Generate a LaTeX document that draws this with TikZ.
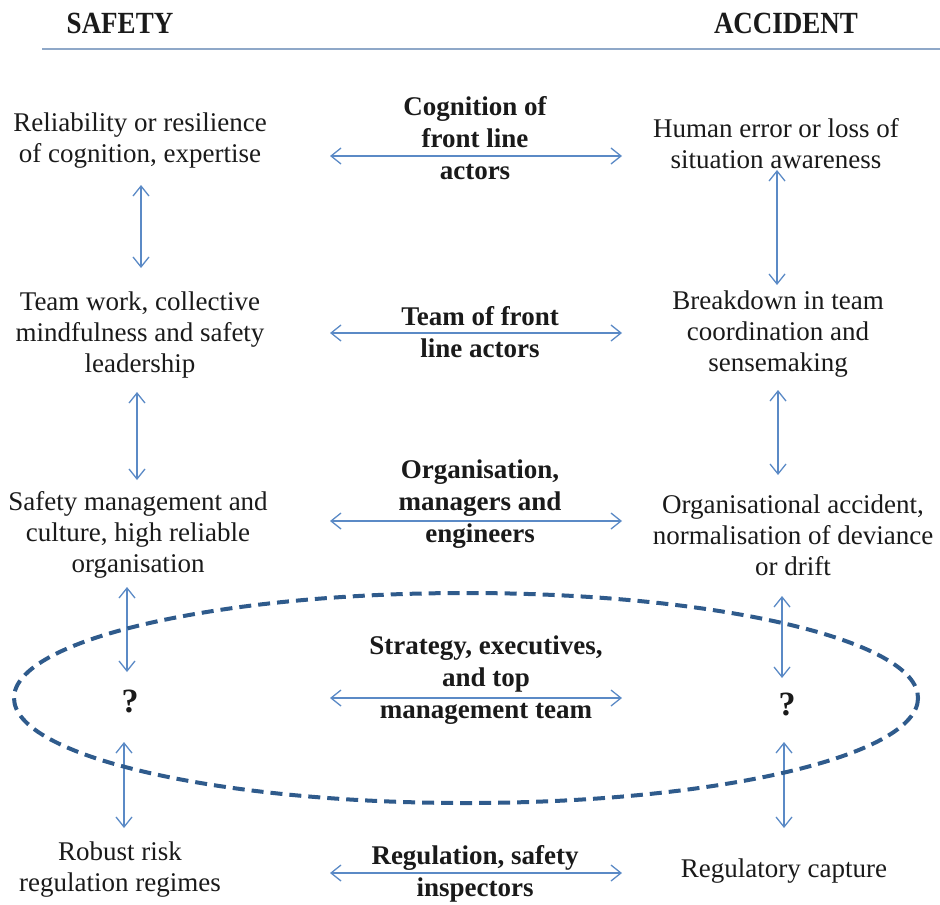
\documentclass[tikz,border=0pt]{standalone}
\usepackage{fontspec}
\setmainfont{Liberation Serif}
\usetikzlibrary{arrows.meta}
\definecolor{ink}{HTML}{1A1A1A}
\definecolor{link}{HTML}{5B8AC6}
\definecolor{rulec}{HTML}{8FA8C8}
\definecolor{ringc}{HTML}{2F5B8C}
\newcommand{\tallcaps}[1]{\scalebox{1}[1.14]{#1}}
\tikzset{
  txt/.style={align=center,inner sep=0pt,text=ink,font=\fontsize{13.5}{15.5}\selectfont},
  hub/.style={txt,font=\fontsize{13.5}{16}\selectfont\bfseries},
  head/.style={txt,font=\fontsize{13.5}{16}\selectfont\bfseries},
  qm/.style={txt,font=\fontsize{17}{18}\selectfont\bfseries},
  ar/.style={{Straight Barb[length=5pt,width=8pt]}-{Straight Barb[length=5pt,width=8pt]},draw=link,line width=.65pt},
  dashring/.style={draw=ringc,line width=2pt,dash pattern=on 6pt off 3.5pt},
}
\begin{document}
\begin{tikzpicture}[x=.5pt,y=-.5pt]
  \useasboundingbox (0,0) rectangle (940,904);
  % headings and rule
  \node[head] (safety) at (120,23) {\tallcaps{SAFETY}};
  \node[head] (accident) at (786,23) {\tallcaps{ACCIDENT}};
  \coordinate (rl) at (42,49); \coordinate (rr) at (940,49);
  \draw[rulec,line width=1.1pt] (rl) -- (rr);
  % safety side
  \node[txt] (s1) at (140,141) {Reliability or resilience\\of cognition, expertise};
  \node[txt] (s2) at (140,335) {Team work, collective\\mindfulness and safety\\leadership};
  \node[txt] (s3) at (138,535) {Safety management and\\culture, high reliable\\organisation};
  \node[qm] (s4) at (130,701) {?};
  \node[txt] (s5) at (120,870) {Robust risk\\regulation regimes};
  % levels
  \node[hub] (m1) at (475,138) {Cognition of\\front line\\actors};
  \node[hub] (m2) at (480,332) {Team of front\\line actors};
  \node[hub] (m3) at (480,504) {Organisation,\\managers and\\engineers};
  \node[hub] (m4) at (486,680) {Strategy, executives,\\and top\\management team};
  \node[hub] (m5) at (475,874) {Regulation, safety\\inspectors};
  % accident side
  \node[txt] (a1) at (776,144) {Human error or loss of\\situation awareness};
  \node[txt] (a2) at (778,334) {Breakdown in team\\coordination and\\sensemaking};
  \node[txt] (a3) at (793,535) {Organisational accident,\\normalisation of deviance\\or drift};
  \node[qm] (a4) at (787,704) {?};
  \node[txt] (a5) at (784,871) {Regulatory capture};
  % arrows
  \foreach \i/\y in {1/156,2/333,3/521,4/698,5/873} {
    \coordinate (hl\i) at (330,\y); \coordinate (hr\i) at (622,\y);
    \draw[ar] (hl\i) -- (hr\i);
  }
  \foreach \i/\x/\ya/\yb in {1/141/185/268,2/137/392/480,3/127/587/672,4/124/742/828} {
    \coordinate (vt\i) at (\x,\ya); \coordinate (vb\i) at (\x,\yb);
    \draw[ar] (vt\i) -- (vb\i);
  }
  \foreach \i/\x/\ya/\yb in {1/777/170/285,2/778/390/475,3/782/596/678,4/784/742/828} {
    \coordinate (wt\i) at (\x,\ya); \coordinate (wb\i) at (\x,\yb);
    \draw[ar] (wt\i) -- (wb\i);
  }
  % top management band
  \coordinate (band) at (466,698);
  \draw[dashring] (band) ellipse [x radius=452,y radius=105];
\end{tikzpicture}
\end{document}
